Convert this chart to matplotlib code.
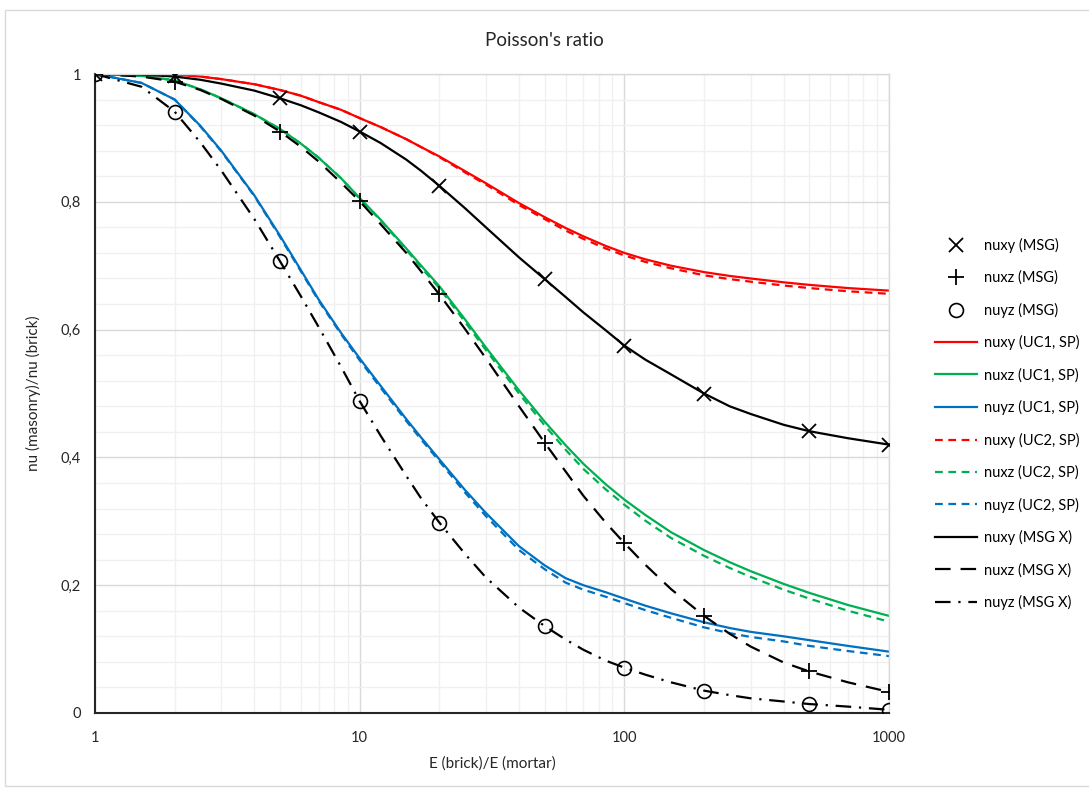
import numpy as np
import matplotlib
matplotlib.use("Agg")
import matplotlib.pyplot as plt
from matplotlib.ticker import FixedLocator, FuncFormatter, NullFormatter
from matplotlib.patches import Rectangle

plt.rcParams['font.family'] = ['Lato', 'DejaVu Sans']

# MSG points (markers only)
x_msg = [1, 2, 5, 10, 20, 50, 100, 200, 500, 1000]
nuxy_msg = [1.0, 0.997, 0.962, 0.910, 0.825, 0.679, 0.575, 0.500, 0.441, 0.420]
nuxz_msg = [1.0, 0.988, 0.910, 0.801, 0.655, 0.423, 0.266, 0.152, 0.065, 0.033]
nuyz_msg = [1.0, 0.941, 0.707, 0.488, 0.298, 0.136, 0.071, 0.035, 0.014, 0.005]

# curves
x_curve = [1, 1.5, 2, 2.5, 3, 4, 5, 6, 7, 8.5,
           10, 12, 15, 17, 20, 25, 30, 40, 50, 60,
           70, 85, 100, 120, 150, 200, 250, 300, 400, 500,
           700, 1000]
nuxy_uc1 = [1.0, 1.0, 0.999, 0.996, 0.992, 0.984, 0.975, 0.966, 0.956, 0.944,
            0.931, 0.917, 0.898, 0.886, 0.871, 0.848, 0.829, 0.798, 0.776, 0.759,
            0.746, 0.731, 0.720, 0.710, 0.700, 0.690, 0.684, 0.680, 0.674, 0.670,
            0.665, 0.661]
nuxz_uc1 = [1.0, 0.997, 0.990, 0.976, 0.962, 0.937, 0.914, 0.891, 0.869, 0.837,
            0.806, 0.772, 0.727, 0.701, 0.668, 0.616, 0.572, 0.505, 0.456, 0.419,
            0.390, 0.358, 0.334, 0.310, 0.283, 0.255, 0.236, 0.222, 0.202, 0.188,
            0.169, 0.152]
nuyz_uc1 = [1.0, 0.986, 0.960, 0.919, 0.880, 0.810, 0.747, 0.693, 0.647, 0.595,
            0.555, 0.512, 0.460, 0.432, 0.397, 0.349, 0.313, 0.261, 0.231, 0.211,
            0.200, 0.189, 0.179, 0.168, 0.156, 0.142, 0.133, 0.127, 0.120, 0.114,
            0.105, 0.096]
nuxy_uc2 = [1.0, 1.0, 0.999, 0.996, 0.992, 0.984, 0.975, 0.966, 0.956, 0.944,
            0.931, 0.917, 0.898, 0.886, 0.870, 0.846, 0.827, 0.795, 0.773, 0.755,
            0.742, 0.727, 0.716, 0.706, 0.696, 0.685, 0.679, 0.675, 0.669, 0.665,
            0.660, 0.656]
nuxz_uc2 = [1.0, 0.997, 0.990, 0.976, 0.962, 0.937, 0.914, 0.891, 0.869, 0.837,
            0.805, 0.771, 0.725, 0.698, 0.665, 0.612, 0.568, 0.500, 0.450, 0.412,
            0.382, 0.350, 0.326, 0.301, 0.274, 0.246, 0.227, 0.213, 0.193, 0.179,
            0.160, 0.143]
nuyz_uc2 = [1.0, 0.986, 0.960, 0.918, 0.879, 0.809, 0.745, 0.691, 0.645, 0.593,
            0.552, 0.509, 0.457, 0.429, 0.394, 0.345, 0.308, 0.255, 0.225, 0.204,
            0.193, 0.182, 0.172, 0.161, 0.149, 0.134, 0.125, 0.119, 0.112, 0.105,
            0.097, 0.089]
nuxy_msgx = [1.0, 0.999, 0.996, 0.991, 0.985, 0.974, 0.962, 0.951, 0.940, 0.925,
             0.910, 0.892, 0.866, 0.849, 0.825, 0.790, 0.760, 0.713, 0.679, 0.651,
             0.627, 0.599, 0.575, 0.553, 0.530, 0.500, 0.480, 0.468, 0.451, 0.441,
             0.430, 0.420]
nuxz_msgx = [1.0, 0.996, 0.988, 0.975, 0.961, 0.935, 0.910, 0.886, 0.863, 0.830,
             0.801, 0.765, 0.720, 0.692, 0.655, 0.601, 0.555, 0.480, 0.423, 0.378,
             0.340, 0.298, 0.266, 0.232, 0.194, 0.152, 0.124, 0.104, 0.079, 0.065,
             0.048, 0.033]
nuyz_msgx = [1.0, 0.980, 0.941, 0.893, 0.849, 0.773, 0.707, 0.652, 0.604, 0.542,
             0.488, 0.434, 0.371, 0.337, 0.298, 0.249, 0.212, 0.165, 0.136, 0.115,
             0.099, 0.082, 0.071, 0.060, 0.048, 0.035, 0.028, 0.023, 0.018, 0.014,
             0.010, 0.005]

RED = '#ff0000'
GREEN = '#00b050'
BLUE = '#0070c0'
lw = 1.6

fig = plt.figure(figsize=(10.89, 7.9), dpi=100)
ax = fig.add_axes([95/1089, 1-713/790, (889-95)/1089, (713-74)/790])

# outer chart border
fig.patches.append(Rectangle((5/1089, 1-786/790), 1100/1089, 776/790, transform=fig.transFigure,
                             fill=False, edgecolor='#d9d9d9', lw=1))

ax.plot(x_msg, nuxy_msg, ls='none', marker='x', ms=10, mew=1.3, color='k', label='nuxy (MSG)', zorder=5)
ax.plot(x_msg, nuxz_msg, ls='none', marker='+', ms=11, mew=1.3, color='k', label='nuxz (MSG)', zorder=5)
ax.plot(x_msg, nuyz_msg, ls='none', marker='o', ms=10, mew=1.2, mfc='none', color='k', label='nuyz (MSG)', zorder=5)

ax.plot(x_curve, nuxy_uc1, color=RED, lw=lw, label='nuxy (UC1, SP)')
ax.plot(x_curve, nuxz_uc1, color=GREEN, lw=lw, label='nuxz (UC1, SP)')
ax.plot(x_curve, nuyz_uc1, color=BLUE, lw=lw, label='nuyz (UC1, SP)')
ax.plot(x_curve, nuxy_uc2, color=RED, lw=lw, ls=(0, (3.5, 2.5)), label='nuxy (UC2, SP)')
ax.plot(x_curve, nuxz_uc2, color=GREEN, lw=lw, ls=(0, (3.5, 2.5)), label='nuxz (UC2, SP)')
ax.plot(x_curve, nuyz_uc2, color=BLUE, lw=lw, ls=(0, (3.5, 2.5)), label='nuyz (UC2, SP)')
ax.plot(x_curve, nuxy_msgx, color='k', lw=lw, label='nuxy (MSG X)')
ax.plot(x_curve, nuxz_msgx, color='k', lw=lw, ls=(0, (7, 4.5)), label='nuxz (MSG X)')
ax.plot(x_curve, nuyz_msgx, color='k', lw=lw, ls=(0, (7, 3.5, 1, 3.5)), label='nuyz (MSG X)')

ax.set_xscale('log')
ax.set_xlim(1, 1000)
ax.set_ylim(0, 1)

ax.xaxis.set_major_locator(FixedLocator([1, 10, 100, 1000]))
ax.xaxis.set_minor_locator(FixedLocator([m*d for d in [1, 10, 100] for m in range(2, 10)]))
ax.xaxis.set_major_formatter(FuncFormatter(lambda v, p: '%d' % round(v)))
ax.xaxis.set_minor_formatter(NullFormatter())
ax.yaxis.set_major_locator(FixedLocator(np.arange(0, 1.01, 0.2)))
ax.yaxis.set_minor_locator(FixedLocator(np.arange(0, 1.001, 0.04)))
ax.yaxis.set_major_formatter(FuncFormatter(lambda v, p: ('%g' % round(v, 2)).replace('.', ',')))

ax.grid(which='major', color='#d9d9d9', lw=1)
ax.grid(which='minor', color='#f0f0f0', lw=1)
ax.set_axisbelow(True)
ax.tick_params(which='both', length=0, labelsize=10.5, colors='#262626')
ax.tick_params(axis='x', pad=13)
ax.tick_params(axis='y', pad=10)
for s in ['top', 'right']:
    ax.spines[s].set_color('#d9d9d9')
    ax.spines[s].set_linewidth(1)
for s in ['left', 'bottom']:
    ax.spines[s].set_color('#262626')
    ax.spines[s].set_linewidth(1.5)

fig.text(0.5, 1-40/790, "Poisson's ratio", fontsize=13.5, color='#262626', ha='center', va='center')
ax.set_xlabel('E (brick)/E (mortar)', fontsize=11, color='#262626', labelpad=8)
ax.set_ylabel('nu (masonry)/nu (brick)', fontsize=11, color='#262626', labelpad=14)

fig.legend(loc='upper left', bbox_to_anchor=(935/1089, 1-238/790), frameon=False, fontsize=10.5,
           handlelength=2.9, handletextpad=0.45, labelspacing=1.21, borderpad=0, borderaxespad=0)

fig.savefig('out.png', dpi=100)
